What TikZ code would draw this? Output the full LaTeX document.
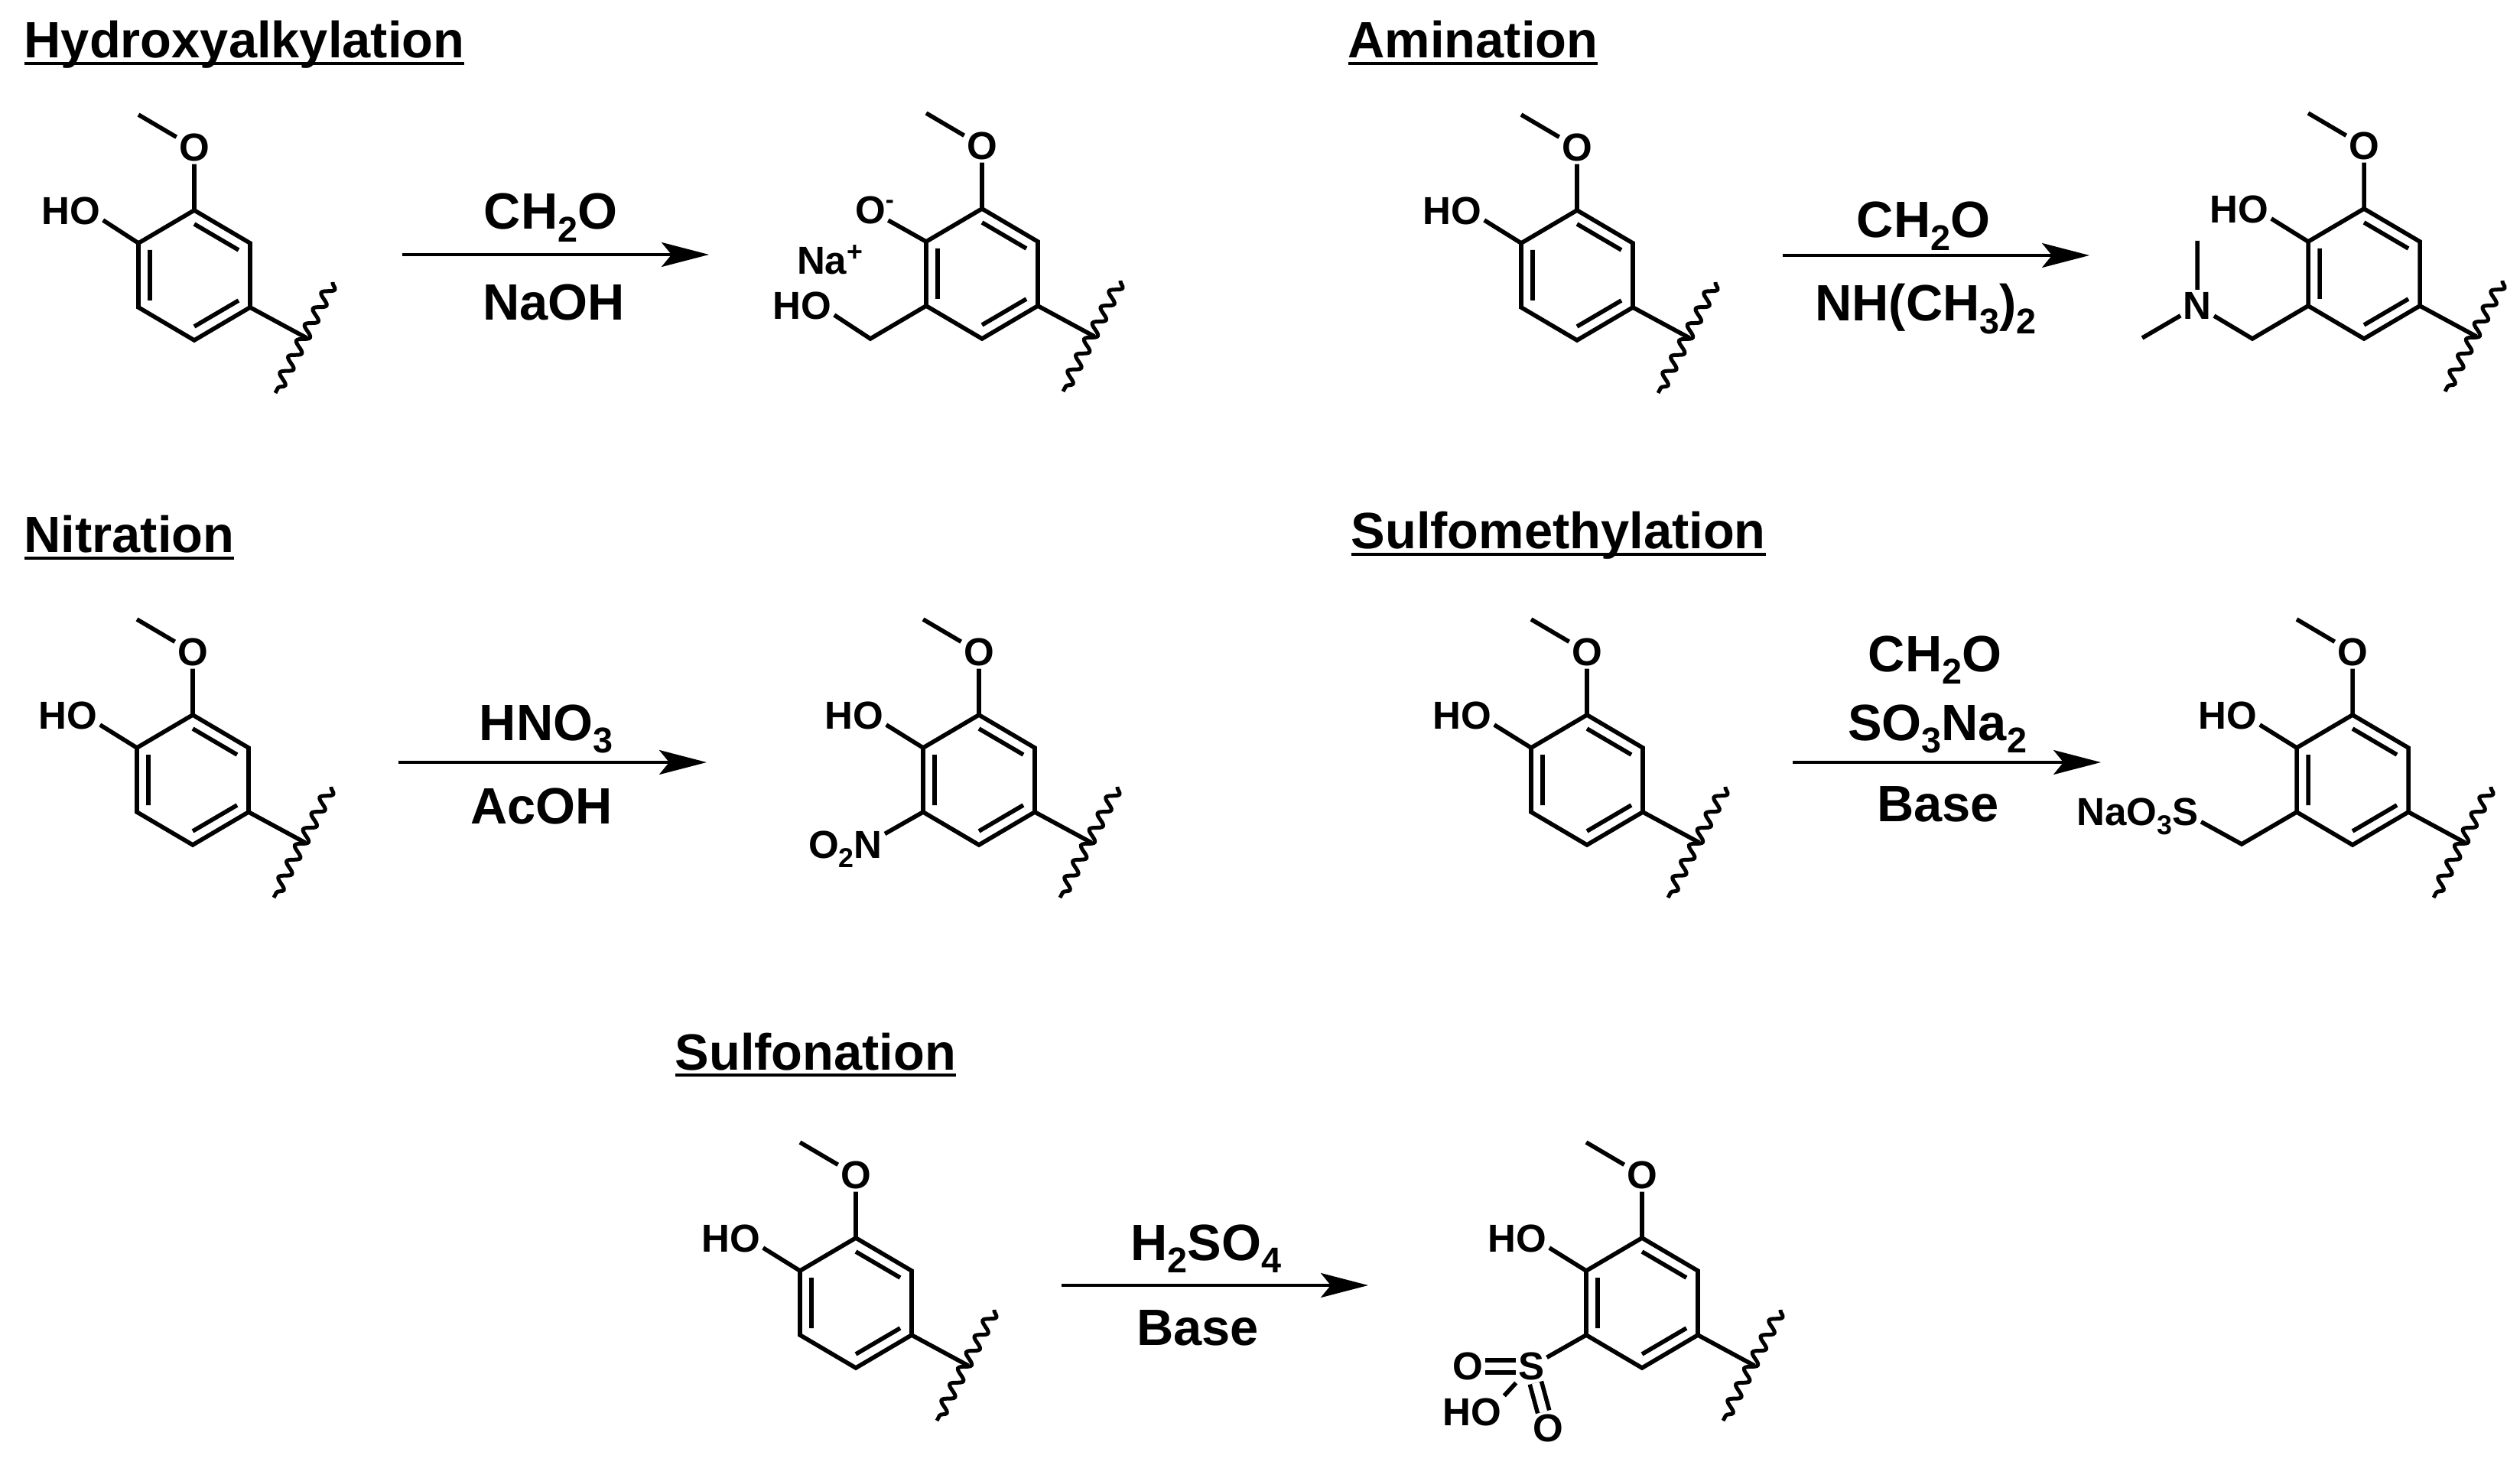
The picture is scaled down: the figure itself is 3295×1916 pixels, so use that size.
\documentclass[tikz,border=0pt]{standalone}
\usepackage{fontspec}
\setmainfont{Liberation Sans}
\usetikzlibrary{arrows.meta,decorations.pathmorphing}

\newcommand{\subs}[1]{\raisebox{-0.24em}{\scalebox{0.7}{#1}}}
\newcommand{\ulined}[1]{\setbox0=\hbox{#1}\rlap{\rule[-2.6pt]{\wd0}{1.1pt}}\box0}

\tikzset{
  bond/.style={line width=0.056cm},
  wavy/.style={line width=0.05cm,decorate,decoration={snake,segment length=0.235cm,amplitude=0.07cm}},
  rxn/.style={line width=0.035cm,-{Stealth[length=0.62cm,width=0.32cm,inset=0.13cm]}},
  atom/.style={font=\fontsize{14.5}{16}\selectfont\bfseries,inner sep=1pt,outer sep=0pt},
  reag/.style={font=\fontsize{19}{22}\selectfont\bfseries,anchor=base,inner sep=0pt},
  head/.style={font=\fontsize{19}{22}\selectfont\bfseries,anchor=base west,inner sep=0pt}
}

\begin{document}
\begin{tikzpicture}[x=0.01cm,y=-0.01cm]
  \useasboundingbox (0,0) rectangle (3295,1916);

  \node[head] (thy) at (31,76) {\ulined{Hydroxyalkylation}};
  \node[head] (tam) at (1762,76) {\ulined{Amination}};
  \node[head] (tni) at (31,723) {\ulined{Nitration}};
  \node[head] (tsm) at (1766,718) {\ulined{Sulfomethylation}};
  \node[head] (tsu) at (882,1399) {\ulined{Sulfonation}};

  % ring, methoxy and cut bond
  \foreach \m/\x/\y in {hr/254/360,hp/1284/358,ar/2062/360,ap/3091/358,
      nr/252/1020,np/1280/1020,mr/2075/1020,mp/3076/1020,sr/1119/1704,sp/2147/1704}{
    \coordinate (\m t) at (\x,\y-85);
    \coordinate (\m ur) at (\x+73,\y-42);
    \coordinate (\m lr) at (\x+73,\y+42);
    \coordinate (\m b) at (\x,\y+85);
    \coordinate (\m ll) at (\x-73,\y+42);
    \coordinate (\m ul) at (\x-73,\y-42);
    \coordinate (\m it) at (\x,\y-67);
    \coordinate (\m iur) at (\x+58,\y-33);
    \coordinate (\m ilr) at (\x+58,\y+33);
    \coordinate (\m ib) at (\x,\y+67);
    \coordinate (\m ill) at (\x-58,\y+33);
    \coordinate (\m iul) at (\x-58,\y-33);
    \node[atom] (\m o) at (\x,\y-167) {O};
    \coordinate (\m me) at (\x-73,\y-210);
    \coordinate (\m cut) at (\x+147,\y+82);
    \coordinate (\m wa) at (\x+181,\y+9);
    \coordinate (\m wb) at (\x+106,\y+154);
    \draw[bond] (\m t) -- (\m ur) -- (\m lr) -- (\m b) -- (\m ll) -- (\m ul) -- cycle;
    \draw[bond] (\m it) -- (\m iur) (\m ilr) -- (\m ib) (\m ill) -- (\m iul);
    \draw[bond] (\m t) -- (\m o) -- (\m me);
    \draw[bond] (\m lr) -- (\m cut);
    \draw[wavy] (\m wa) -- (\m wb);
  }

  \foreach \m/\x/\y in {hr/256/360,ar/2062/360,ap/3091/358,nr/252/1020,np/1280/1020,
      mr/2075/1020,mp/3076/1020,sr/1119/1704,sp/2147/1704}{
    \node[atom] (\m ho) at (\x-163,\y-84) {HO};
    \draw[bond] (\m ho.-16) -- (\m ul);
  }

  % hydroxyalkylation product
  \node[atom] (hpom) at (1138,275) {O\rlap{\raisebox{0.4em}{\scalebox{0.65}{-}}}};
  \node[atom] (hpna) at (1085,340) {Na\raisebox{0.33em}{\scalebox{0.7}{+}}};
  \node[atom] (hpho) at (1049,400) {HO};
  \coordinate (hpch) at (1138,443);
  \draw[bond] (hpom) -- (hpul);
  \draw[bond] (hpho.-16) -- (hpch) -- (hpll);

  % amination product
  \node[atom] (apn) at (2873,400) {N};
  \coordinate (apch) at (2945,443);
  \coordinate (apma) at (2873,315);
  \coordinate (apmb) at (2801,442);
  \draw[bond] (apll) -- (apch) -- (apn) -- (apma);
  \draw[bond] (apn) -- (apmb);

  % nitration product
  \node[atom,anchor=base east] (npno) at (1157,1122) {O\subs{2}N};
  \draw[bond] (npll) -- (npno.21);

  % sulfomethylation product
  \node[atom,anchor=base east] (mpna) at (2878,1079) {NaO\subs{3}S};
  \coordinate (mpch) at (2931,1104);
  \draw[bond] (mpll) -- (mpch) -- (mpna.-5);

  % sulfonation product
  \node[atom] (sps) at (2002,1787) {S};
  \node[atom] (spol) at (1919,1787) {O};
  \node[atom] (spod) at (2024,1868) {O};
  \node[atom] (spoh) at (1925,1847) {HO};
  \draw[bond] (spll) -- (sps);
  \draw[bond] (sps) -- (spoh.north east);
  \draw[bond,double,double distance=0.10cm] (sps) -- (spol);
  \draw[bond,double,double distance=0.10cm] (sps) -- (spod);

  % arrows
  \foreach \r/\xa/\xb/\y in {hy/526/927/333,am/2331/2732/334,ni/521/924/997,sm/2344/2747/997,su/1388/1789/1681}{
    \coordinate (\r s) at (\xa,\y);
    \coordinate (\r e) at (\xb,\y);
    \draw[rxn] (\r s) -- (\r e);
  }

  \node[reag] (rhya) at (720,300) {CH\subs{2}O};
  \node[reag] (rhyb) at (724,419) {NaOH};
  \node[reag] (rama) at (2515,311) {CH\subs{2}O};
  \node[reag] (ramb) at (2518,420) {NH(CH\subs{3})\subs{2}};
  \node[reag] (rnia) at (714,968) {HNO\subs{3}};
  \node[reag] (rnib) at (708,1077) {AcOH};
  \node[reag] (rsma) at (2530,878) {CH\subs{2}O};
  \node[reag] (rsmb) at (2533,968) {SO\subs{3}Na\subs{2}};
  \node[reag] (rsmc) at (2534,1074) {Base};
  \node[reag] (rsua) at (1577,1648) {H\subs{2}SO\subs{4}};
  \node[reag] (rsub) at (1566,1759) {Base};
\end{tikzpicture}
\end{document}
